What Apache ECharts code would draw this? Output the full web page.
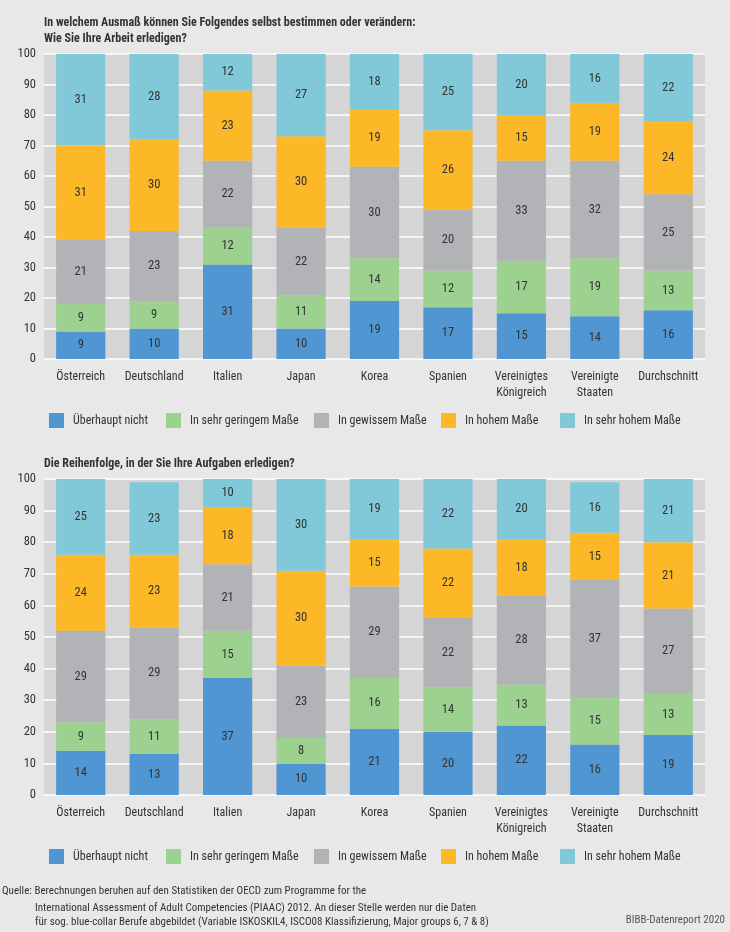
<!DOCTYPE html>
<html><head><meta charset="utf-8">
<script src="https://cdn.jsdelivr.net/npm/echarts@6/dist/echarts.min.js"></script>
<style>html,body{margin:0;padding:0;background:#e8e8e9;}#c{width:730px;height:932px;}</style>
</head><body><div id="c"></div>
<script>
const categories = ['Österreich','Deutschland','Italien','Japan','Korea','Spanien','Vereinigtes\nKönigreich','Vereinigte\nStaaten','Durchschnitt'];
const seriesNames = ['Überhaupt nicht','In sehr geringem Maße','In gewissem Maße','In hohem Maße','In sehr hohem Maße'];
const colors = ['#4f96d2','#9dd190','#b2b3b6','#fdb827','#81c9d9'];
const yTicks = [0,10,20,30,40,50,60,70,80,90,100];

// Chart 1: Wie Sie Ihre Arbeit erledigen?
const a_ueberhaupt = [9,10,31,10,19,17,15,14,16];
const a_gering     = [9,9,12,11,14,12,17,19,13];
const a_gewiss     = [21,23,22,22,30,20,33,32,25];
const a_hoch       = [31,30,23,30,19,26,15,19,24];
const a_sehrhoch   = [31,28,12,27,18,25,20,16,22];

// Chart 2: Die Reihenfolge, in der Sie Ihre Aufgaben erledigen?
const b_ueberhaupt = [14,13,37,10,21,20,22,16,19];
const b_gering     = [9,11,15,8,16,14,13,15,13];
const b_gewiss     = [29,29,21,23,29,22,28,37,27];
const b_hoch       = [24,23,18,30,15,22,18,15,21];
const b_sehrhoch   = [25,23,10,30,19,22,20,16,21];

const title1 = 'In welchem Ausmaß können Sie Folgendes selbst bestimmen oder verändern:\nWie Sie Ihre Arbeit erledigen?';
const title2 = 'Die Reihenfolge, in der Sie Ihre Aufgaben erledigen?';
const sourceText = 'Quelle: Berechnungen beruhen auf den Statistiken der OECD zum Programme for the';
const sourceText2 = 'International Assessment of Adult Competencies (PIAAC) 2012. An dieser Stelle werden nur die Daten\nfür sog. blue-collar Berufe abgebildet (Variable ISKOSKIL4, ISCO08 Klassifizierung, Major groups 6, 7 & 8)';
const brand = 'BIBB-Datenreport 2020';

const FONT = 'Roboto';
const FS = 'condensed';
const TXT = '#333333';

const dataA = [a_ueberhaupt,a_gering,a_gewiss,a_hoch,a_sehrhoch];
const dataB = [b_ueberhaupt,b_gering,b_gewiss,b_hoch,b_sehrhoch];

function mkSeries(data, idx, stack){
  return data.map((d,i)=>({
    name: seriesNames[i], type:'bar', stack: stack,
    xAxisIndex: idx, yAxisIndex: idx,
    barWidth: '67%',
    itemStyle:{color: colors[i]},
    label:{show:true, position:'inside', color:TXT, fontSize:12.5, fontFamily:FONT, fontStyle:FS},
    data: d
  }));
}
function mkX(idx){
  return {type:'category', gridIndex: idx, data: categories,
    axisLine:{show:false}, axisTick:{show:false},
    axisLabel:{color:TXT, fontSize:12, fontFamily:FONT, fontStyle:FS, margin:10, lineHeight:16, interval:0}};
}
function mkY(idx){
  return {type:'value', gridIndex: idx, min:yTicks[0], max:yTicks[yTicks.length-1], interval:10,
    axisLine:{show:false}, axisTick:{show:false},
    splitLine:{lineStyle:{color:'#ffffff', width:1.5}},
    axisLabel:{color:TXT, fontSize:12.5, fontFamily:FONT, fontStyle:FS, margin:8}};
}
const legendLefts = [44,161,309,436,555];
function mkLegends(top){
  return seriesNames.map((n,i)=>({top: top, left: legendLefts[i], itemWidth:15, itemHeight:15, icon:'rect',
    textStyle:{color:TXT, fontSize:12, fontFamily:FONT, fontStyle:FS, padding:[0,0,0,4]}, data:[n]}));
}

const chart = echarts.init(document.getElementById('c'));
chart.setOption({
  backgroundColor:'#e8e8e9',
  animation:false,
  title:[
    {text:title1, left:39, top:10, textStyle:{color:TXT, fontSize:12, fontWeight:'bold', fontFamily:FONT, fontStyle:FS, lineHeight:16}},
    {text:title2, left:39, top:453, textStyle:{color:TXT, fontSize:12, fontWeight:'bold', fontFamily:FONT, fontStyle:FS}},
    {text:sourceText, left:-3, top:881, textStyle:{color:TXT, fontSize:11, fontWeight:'normal', fontFamily:FONT, fontStyle:FS}},
    {text:sourceText2, left:30, top:896, textStyle:{color:TXT, fontSize:11, fontWeight:'normal', fontFamily:FONT, fontStyle:FS, lineHeight:14}},
    {text:brand, right:0, top:910, textStyle:{color:'#555555', fontSize:11, fontWeight:'normal', fontFamily:FONT, fontStyle:FS}}
  ],
  legend:[...mkLegends(408), ...mkLegends(844)],
  grid:[
    {left:44, right:25, top:54, height:305, show:true, backgroundColor:'#d5d5d6', borderWidth:0},
    {left:44, right:25, top:479, height:316, show:true, backgroundColor:'#d5d5d6', borderWidth:0}
  ],
  xAxis:[mkX(0), mkX(1)],
  yAxis:[mkY(0), mkY(1)],
  series:[...mkSeries(dataA,0,'a'), ...mkSeries(dataB,1,'b')]
});
</script></body></html>
